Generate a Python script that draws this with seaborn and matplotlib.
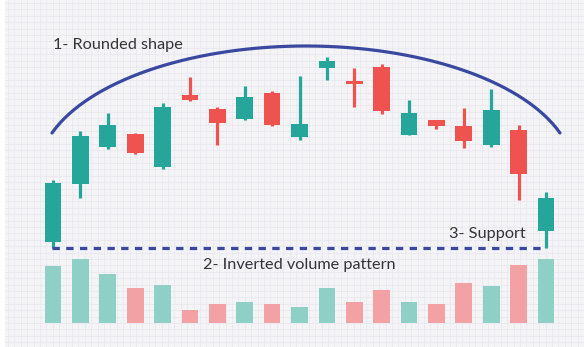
import numpy as np
import pandas as pd
import matplotlib
matplotlib.use("Agg")
import matplotlib.pyplot as plt
import seaborn as sns

# ---- data -------------------------------------------------------------
sessions = list(range(19))
opens  = [58.0, 116.0, 153.0, 165.7, 133.3, 204.7, 191.3, 181.0, 206.7, 162.7,
          232.3, 219.0, 233.0, 165.3, 180.0, 173.7, 155.3, 170.0, 68.7]
closes = [116.7, 164.0, 174.7, 147.0, 193.3, 200.0, 177.0, 202.7, 175.3, 175.7,
          239.0, 215.7, 189.0, 187.3, 174.3, 159.3, 189.7, 126.0, 102.0]
highs  = [120.3, 169.0, 187.3, 166.7, 197.3, 223.0, 193.3, 214.3, 209.3, 224.3,
          243.3, 232.0, 236.0, 199.7, 180.0, 191.7, 211.0, 174.7, 108.0]
lows   = [51.7, 102.3, 151.0, 146.3, 130.7, 199.0, 155.0, 180.0, 174.3, 159.7,
          220.3, 193.3, 185.7, 164.7, 171.0, 152.3, 153.3, 100.0, 52.3]
volumes = [57.6, 64.6, 49.3, 35.0, 38.6, 13.3, 19.3, 21.3, 19.3, 16.6,
           35.6, 21.0, 33.3, 21.0, 19.0, 40.3, 37.6, 58.3, 64.6]
support_level = 52.3

labels = ["1- Rounded shape", "2- Inverted volume pattern", "3- Support"]

# ---- styling ----------------------------------------------------------
UP, DOWN = "#26a69a", "#ef5350"
UP_VOL, DOWN_VOL = "#8ecfc6", "#f2a2a4"
ARC_BLUE = "#3a48a0"
TEXT = "#333338"
BG = "#f4f4f7"
GRID = "#e7e7ed"

sns.set_theme(style="white")
plt.rcParams["font.family"] = ["Lato", "DejaVu Sans"]

W, H = 584, 347
fig = plt.figure(figsize=(W / 100, H / 100), dpi=100)
fig.patch.set_facecolor("white")

# graph-paper backdrop (pixel coordinates)
bg = fig.add_axes([0, 0, 1, 1])
bg.set_xlim(0, W)
bg.set_ylim(H, 0)
bg.axis("off")
bg.add_patch(plt.Rectangle((5, 0), W - 5, H, color=BG, lw=0, zorder=0))
bg.vlines(np.arange(8, W, 6.4), 0, H, colors=GRID, lw=0.5, zorder=1)
bg.hlines(np.arange(3, H, 6.4), 5, W, colors=GRID, lw=0.5, zorder=1)

# shared horizontal mapping: session i sits at pixel 53 + 27.39 * i
step, x0 = 27.39, 53.0
xlim = (-x0 / step, (W - x0) / step)

df = pd.DataFrame({
    "session": sessions,
    "open": opens, "close": closes, "high": highs, "low": lows,
    "volume": volumes,
})
df["direction"] = np.where(df["close"] >= df["open"], "up", "down")

# volume panel
vax = fig.add_axes([0, 0, 1, 1])
vax.patch.set_alpha(0)
sns.barplot(data=df, x="session", y="volume", hue="direction",
            palette={"up": UP_VOL, "down": DOWN_VOL}, dodge=False,
            saturation=1, width=0.61, linewidth=0, legend=False, ax=vax)
vax.set_xlim(*xlim)
vax.set_ylim(-23.7, 323.3)
vax.axis("off")

# price panel
pax = fig.add_axes([0, 0, 1, 1])
pax.patch.set_alpha(0)
pax.set_xlim(*xlim)
pax.set_ylim(-47, 300)
pax.axis("off")

colors = [UP if d == "up" else DOWN for d in df["direction"]]
pax.vlines(df["session"], df["low"], df["high"], colors=colors, lw=2.3, zorder=3)
pax.bar(df["session"], (df["close"] - df["open"]).abs(),
        bottom=df[["open", "close"]].min(axis=1),
        width=0.61, color=colors, lw=0, zorder=4)

# rounded-top outline over the candles: upper part of an ellipse
cx, cy, rx, ry = 9.237, 127.0, 9.77, 127.0
t0 = np.arcsin(40.0 / ry)
t = np.linspace(t0, np.pi - t0, 200)
pax.plot(cx + rx * np.cos(t), cy + ry * np.sin(t), color=ARC_BLUE, lw=2.3,
         solid_capstyle="round", zorder=5)

# support line
pax.hlines(support_level, -0.03, 18, colors=ARC_BLUE, lw=2.3,
           linestyles=(0, (2.3, 2.0)), zorder=5)

# annotations
fs = 11.7
bg.text(53, 49, labels[0], fontsize=fs, color=TEXT, va="baseline", ha="left", zorder=6)
bg.text(203, 268.5, labels[1], fontsize=fs, color=TEXT, va="baseline", ha="left", zorder=6)
bg.text(449, 237.8, labels[2], fontsize=fs, color=TEXT, va="baseline", ha="left", zorder=6)

fig.savefig("out.png", dpi=100)
